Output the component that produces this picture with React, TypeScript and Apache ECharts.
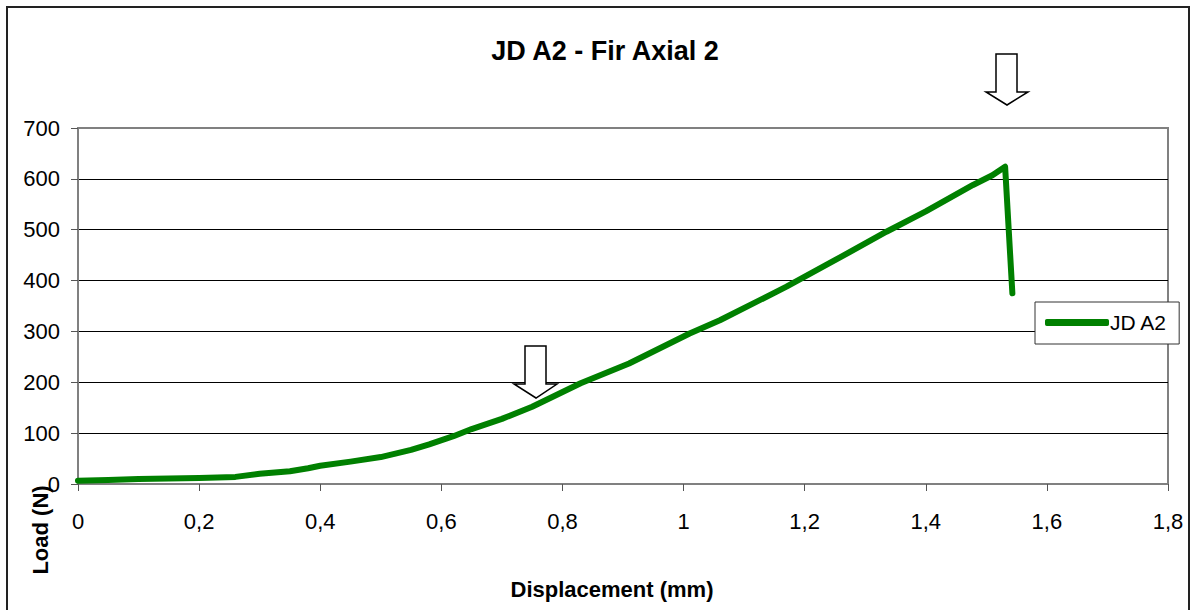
import React, { useEffect, useRef } from "react";
import * as echarts from "echarts";

const title = "JD A2 - Fir Axial 2";
const seriesName = "JD A2";
const xAxisName = "Displacement (mm)";
const yAxisName = "Load (N)";
const displacement = [0, 0.05, 0.1, 0.15, 0.2, 0.26, 0.3, 0.35, 0.38, 0.4, 0.45, 0.5, 0.55, 0.58, 0.62, 0.65, 0.7, 0.75, 0.83, 0.91, 1.01, 1.06, 1.17, 1.25, 1.335, 1.4, 1.478, 1.51, 1.531, 1.543];
const load = [6.5, 8, 10, 11, 12, 14, 20, 25, 31, 36, 44, 53, 67, 78, 94, 108, 128, 152, 198, 237, 296, 322, 388, 440, 496, 536, 588, 607, 624, 375];

const FONT = "'Liberation Sans', Arial, sans-serif";

export default function App() {
  const ref = useRef<HTMLDivElement>(null);
  useEffect(() => {
    if (!ref.current) return;
    const chart = echarts.init(ref.current, null, { renderer: "svg" });
    const data = displacement.map((d, i) => [d, load[i]]);
    const fmt = (v: number) => String(Math.round(v * 10) / 10).replace(".", ",");
    chart.setOption({
      animation: false,
      backgroundColor: "#fff",
      textStyle: { fontFamily: FONT },
      title: {
        text: title,
        left: 600,
        textAlign: "center",
        top: 32,
        textStyle: { fontFamily: FONT, fontSize: 27, fontWeight: "bold", color: "#000" },
      },
      legend: {
        show: true,
        left: 1035,
        top: 302,
        orient: "vertical",
        backgroundColor: "#fff",
        borderColor: "#333",
        borderWidth: 1,
        padding: [10, 12, 11, 10],
        itemWidth: 64,
        itemHeight: 7,
        itemGap: 0,
        icon: "roundRect",
        textStyle: { fontFamily: FONT, fontSize: 21, color: "#000", padding: [0, 0, 0, -4] },
        data: [seriesName],
      },
      grid: {
        left: 78,
        top: 128,
        width: 1090,
        height: 356,
        show: true,
        borderColor: "#808080",
        borderWidth: 2,
        backgroundColor: "transparent",
      },
      xAxis: {
        type: "value",
        min: 0,
        max: 1.8,
        interval: 0.2,
        name: xAxisName,
        nameLocation: "middle",
        nameGap: 94,
        nameTextStyle: { fontFamily: FONT, fontSize: 22, fontWeight: "bold", color: "#000", padding: [0, 22, 0, 0] },
        axisLine: { show: true, lineStyle: { color: "#808080", width: 2 } },
        axisTick: { show: true, inside: false, length: 7, lineStyle: { color: "#555", width: 1 } },
        axisLabel: { formatter: fmt, margin: 26, fontSize: 22, color: "#000", fontFamily: FONT },
        splitLine: { show: false },
      },
      yAxis: {
        type: "value",
        min: 0,
        max: 700,
        interval: 100,
        axisLine: { show: true, lineStyle: { color: "#808080", width: 2 } },
        axisTick: { show: true, inside: false, length: 7, lineStyle: { color: "#555", width: 1 } },
        axisLabel: { margin: 18, fontSize: 22, color: "#000", fontFamily: FONT },
        splitLine: {
          show: true,
          lineStyle: {
            color: ["#808080", "#000", "#000", "#000", "#000", "#000", "#000", "#808080"],
            width: 1,
          },
        },
      },
      series: [
        {
          name: seriesName,
          type: "line",
          data,
          showSymbol: false,
          symbol: "none",
          smooth: false,
          color: "#008000",
          itemStyle: { color: "#008000" },
          lineStyle: { color: "#008000", width: 6, cap: "round", join: "round" },
          z: 5,
        },
      ],
      graphic: [
        {
          type: "rect",
          shape: { x: 7, y: 7, width: 1182, height: 640 },
          style: { fill: "none", stroke: "#222", lineWidth: 2 },
          silent: true,
          z: 100,
        },
        {
          type: "text",
          x: 40,
          y: 530,
          rotation: Math.PI / 2,
          style: {
            text: yAxisName,
            fontFamily: FONT,
            fontSize: 22,
            fontWeight: "bold",
            fill: "#000",
            align: "center",
            verticalAlign: "middle",
          },
          z: 100,
        },
        {
          type: "polygon",
          shape: {
            points: [
              [996, 54], [1017, 54], [1017, 92], [1028, 92], [1007, 105], [986, 92], [996, 92],
            ],
          },
          style: { fill: "#fff", stroke: "#000", lineWidth: 1.5 },
          z: 100,
        },
        {
          type: "polygon",
          shape: {
            points: [
              [525, 346], [546, 346], [546, 384], [557, 384], [536, 398], [514, 384], [525, 384],
            ],
          },
          style: { fill: "#fff", stroke: "#000", lineWidth: 1.5 },
          z: 100,
        },
      ],
    });
    return () => chart.dispose();
  }, []);
  return (
    <div
      ref={ref}
      style={{ position: "fixed", left: 0, top: 0, width: 1195, height: 610 }}
    />
  );
}
